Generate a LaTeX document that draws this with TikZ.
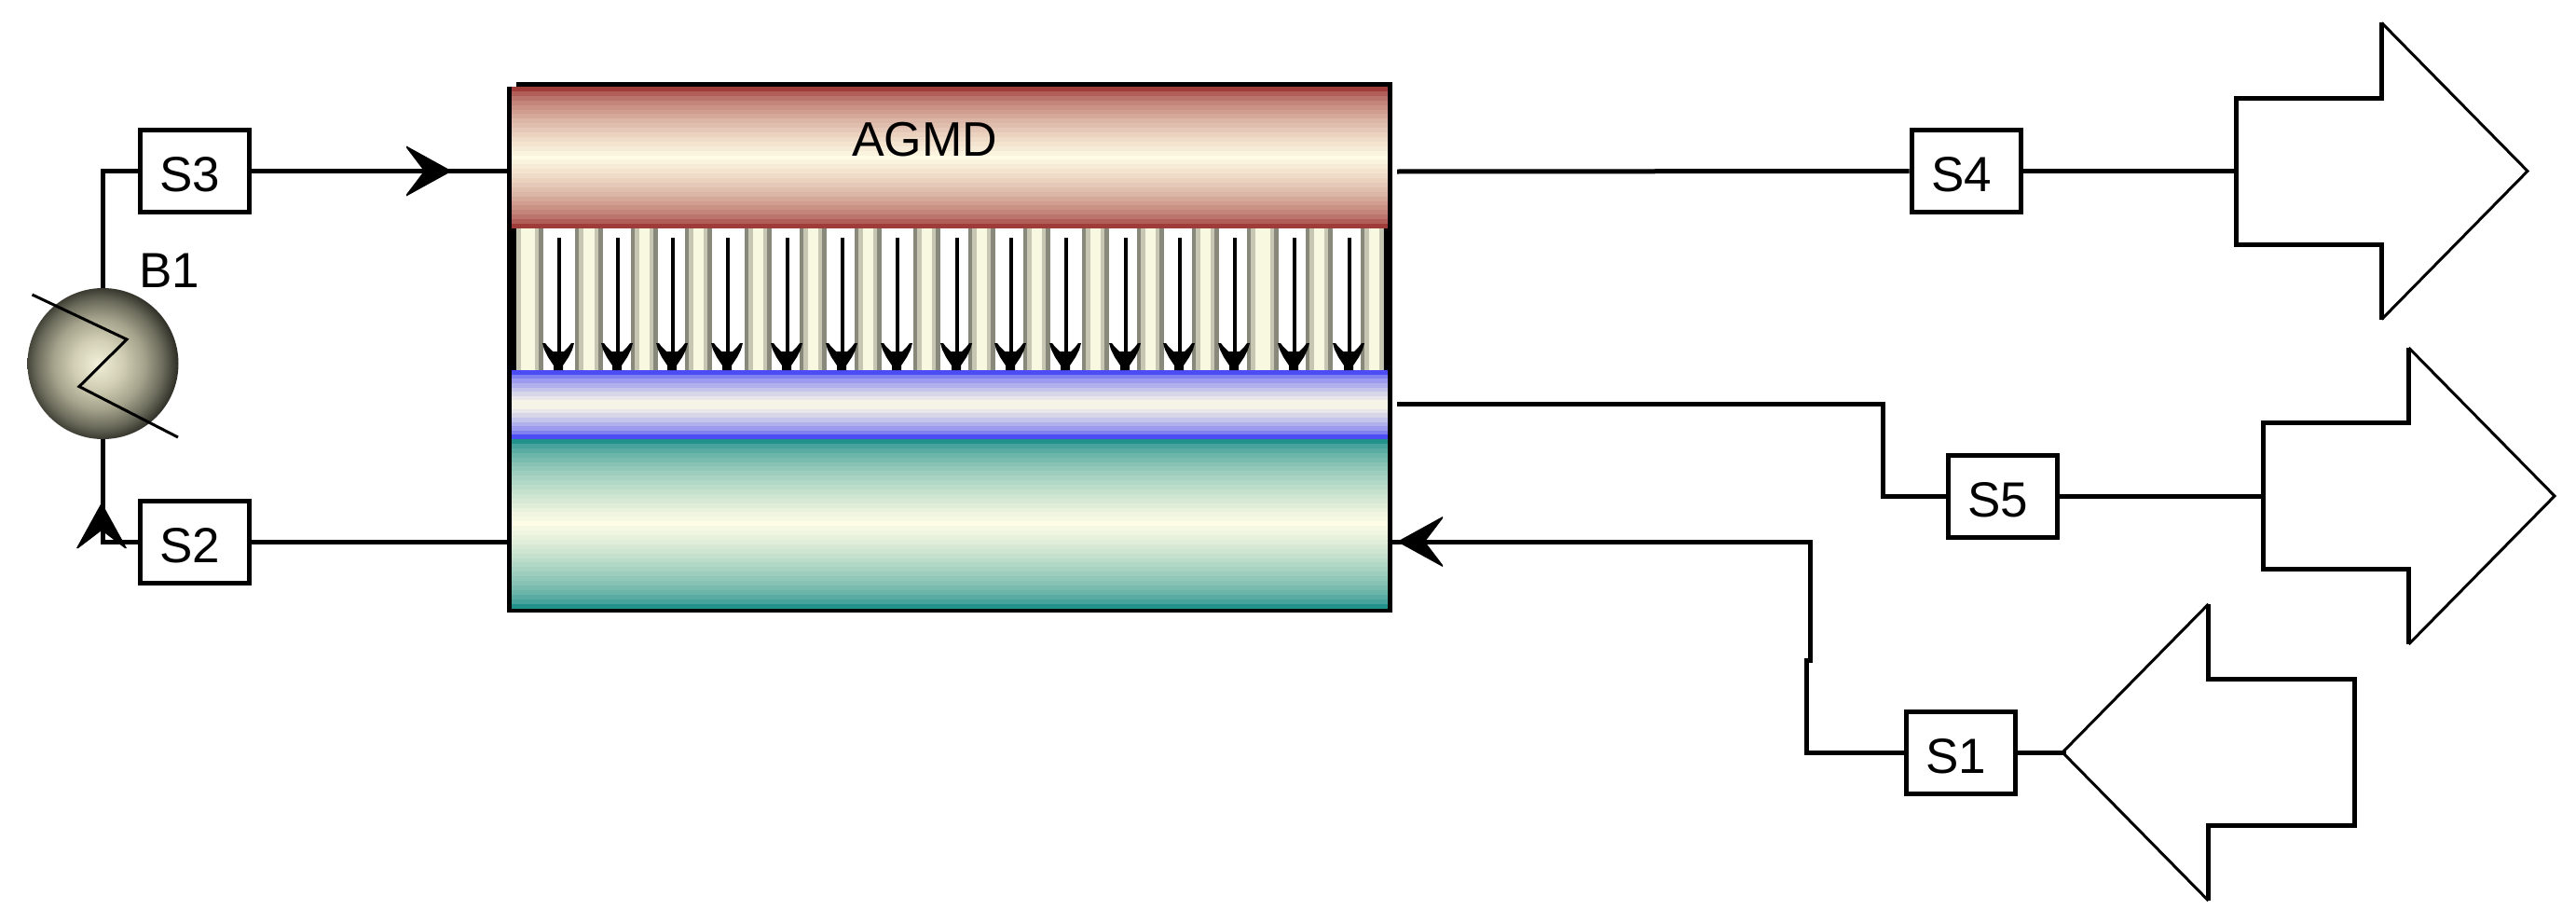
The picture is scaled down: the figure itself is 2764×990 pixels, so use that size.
\documentclass[tikz,border=0pt]{standalone}
\usepackage{fontspec}
\setmainfont{Liberation Sans}
\definecolor{creamc}{HTML}{FFFDE6}
\definecolor{redc}{HTML}{9E3936}
\definecolor{bluec}{HTML}{4A4AF5}
\definecolor{greenc}{HTML}{20908A}
\definecolor{tubegray}{HTML}{88897A}
\definecolor{tubetan}{HTML}{C6C6B2}
\definecolor{tubecream}{HTML}{F8F7DF}
\pgfdeclareradialshading{ballgrey}{\pgfpoint{-2bp}{0bp}}{%
  rgb(0bp)=(0.95,0.94,0.85);
  rgb(8bp)=(0.82,0.81,0.71);
  rgb(15bp)=(0.65,0.64,0.55);
  rgb(21bp)=(0.42,0.42,0.36);
  rgb(26bp)=(0.17,0.17,0.14);
  rgb(50bp)=(0.17,0.17,0.14)}
\newcommand\lbl[1]{\kern-10pt #1}
\newcommand\bands[3]{%
  \pgfmathtruncatemacro\nb{round((#2-#1)/5)}%
  \foreach \i in {0,...,\nb}{%
    \pgfmathsetmacro\yy{#1+(#2-#1)*\i/(\nb+1)}%
    \pgfmathsetmacro\tt{max(1-abs(2*\i/\nb-1),0.001)}%
    \pgfmathtruncatemacro\mm{100*(\tt^0.6)}%
    \fill[creamc!\mm!#3] (549,\yy) rectangle (1489,#2);%
  }%
}
\tikzset{
  strm/.style={draw=black,line width=5pt,fill=white,inner sep=0pt,minimum width=117pt,minimum height=88pt,
    text height=44pt,text depth=0pt,font=\fontsize{53}{60}\selectfont},
  lab/.style={inner sep=0pt,font=\fontsize{53}{60}\selectfont},
  pipe/.style={draw=black,line width=5pt,miter limit=10},
  thinl/.style={draw=black,line width=3pt,miter limit=10},
  barb/.pic={\fill[black] (0,0)--(-49,-27)--(-49,-25)--(-30,0)--(-49,25)--(-49,27)--cycle;},
  minibarb/.pic={\fill[black] (0,-5)--(-5,-5)--(-8,-7)--(-14,-11)--(-22,-15)--(-29,-17)--(-29,-14)--(-25,-11)--(-20,-6)--(-20,6)--(-25,11)--(-29,14)--(-29,17)--(-22,15)--(-14,11)--(-8,7)--(-5,5)--(0,5)--cycle;},
  bigarrow/.pic={
    \draw[pipe] (156.5,-159)--(156.5,-78.5)--(0,-78.5)--(0,78.5)--(156.5,78.5)--(156.5,159);
    \draw[thinl] (156.5,-159)--(313,0)--(156.5,159);}
}
\begin{document}
\begin{tikzpicture}[x=1pt,y=-1pt]
\useasboundingbox (0,0) rectangle (2764,990);
\fill[white] (0,0) rectangle (2764,990);
% block
\node[fill=black,inner sep=0pt,minimum width=950pt,minimum height=569.5pt] (block) at (1019,372.7) {};
\fill[white] (543,87) rectangle (554,93);
\bands{93}{245}{redc}
\bands{397}{471}{bluec}
\bands{471}{652.5}{greenc}
\fill[white] (554,245) rectangle (1484.6,397);
\begin{scope}
\clip (554,245) rectangle (1484.6,397);
\foreach \a/\b in {550/583,617/647,677/706,735/764,799/828,858/887,917/946,980/1009,1039/1068,1098/1127,1161/1190,1220/1249,1279/1308,1338/1372,1401/1430,1460/1489}{
  \fill[tubegray] (\a,245) rectangle (\b,397);
  \fill[tubetan] (\a+4,245) rectangle (\b-5,397);
  \fill[tubecream] (\a+9,245) rectangle (\b-9,397);
}
\end{scope}
\foreach \x in {600,663,722,781,845,904,963,1027,1085,1144,1208,1266,1325,1389,1448}{
  \fill[black] (\x-2.2,255) rectangle (\x+2.2,380);
  \pic[rotate=-90] at (\x-1,397) {minibarb};
}
\node[lab,anchor=base,font=\fontsize{52}{60}\selectfont] (agmd) at (992,167) {AGMD};
% stream tags
\node[strm] (s3) at (208.5,183.7) {\lbl{S3}};
\node[strm] (s2) at (208.5,581) {\lbl{S2}};
\node[strm] (s4) at (2109.5,183.5) {\lbl{S4}};
\node[strm] (s5) at (2148.5,532) {\lbl{S5}};
\node[strm] (s1) at (2104,807) {\lbl{S1}};
% heater
\coordinate (b1c) at (110.5,390);
\node[circle,inner sep=0pt,minimum size=162pt,shading=ballgrey] (b1) at (b1c) {};
\coordinate (z1) at (34.5,316);
\coordinate (z2) at (136,364);
\coordinate (z3) at (85,414.6);
\coordinate (z4) at (191,469);
\draw[thinl] (z1)--(z2)--(z3)--(z4);
\node[lab] (b1lab) at (182,290) {B1};
% connectors
\coordinate (e4) at (1499,184);
\coordinate (e5) at (1499,433.6);
\coordinate (e1) at (1494,581);
\coordinate (j5a) at (2020,433.6);
\coordinate (j1a) at (1942,581);
\coordinate (j1b) at (1942,708);
\coordinate (j1c) at (1938,708);
\coordinate (j1d) at (1938,807);
\coordinate (p4) at (2399,183.5);
\coordinate (p5) at (2428,532);
\coordinate (p1) at (2526,807);
\coordinate (a3) at (485,183.5);
\coordinate (a2) at (109,539);
\coordinate (a1) at (1499,581);
\draw[pipe] (s3.west) -| (b1.north);
\draw[pipe] (s2.west) -| (b1.south);
\draw[pipe] (s3.east) -- (block.west |- s3);
\draw[pipe] (s2.east) -- (block.west |- s2);
\draw[pipe] (e4) -- (s4.west);
\draw[pipe] (s4.east) -- (p4);
\draw[pipe] (e5) -- (j5a) |- (s5.west);
\draw[pipe] (s5.east) -- (p5);
\draw[pipe] (e1) -- (j1a) -- (j1b) -- (j1c) -- (j1d) -- (s1.west);
\draw[pipe] (s1.east) -- ++(52,0) coordinate (s1tip);
% arrowheads and product / feed symbols
\pic at (a3) {barb};
\pic[rotate=90] at (a2) {barb};
\pic[rotate=180] at (a1) {barb};
\pic at (p4) {bigarrow};
\pic at (p5) {bigarrow};
\pic[rotate=180] at (p1) {bigarrow};
\end{tikzpicture}
\end{document}
